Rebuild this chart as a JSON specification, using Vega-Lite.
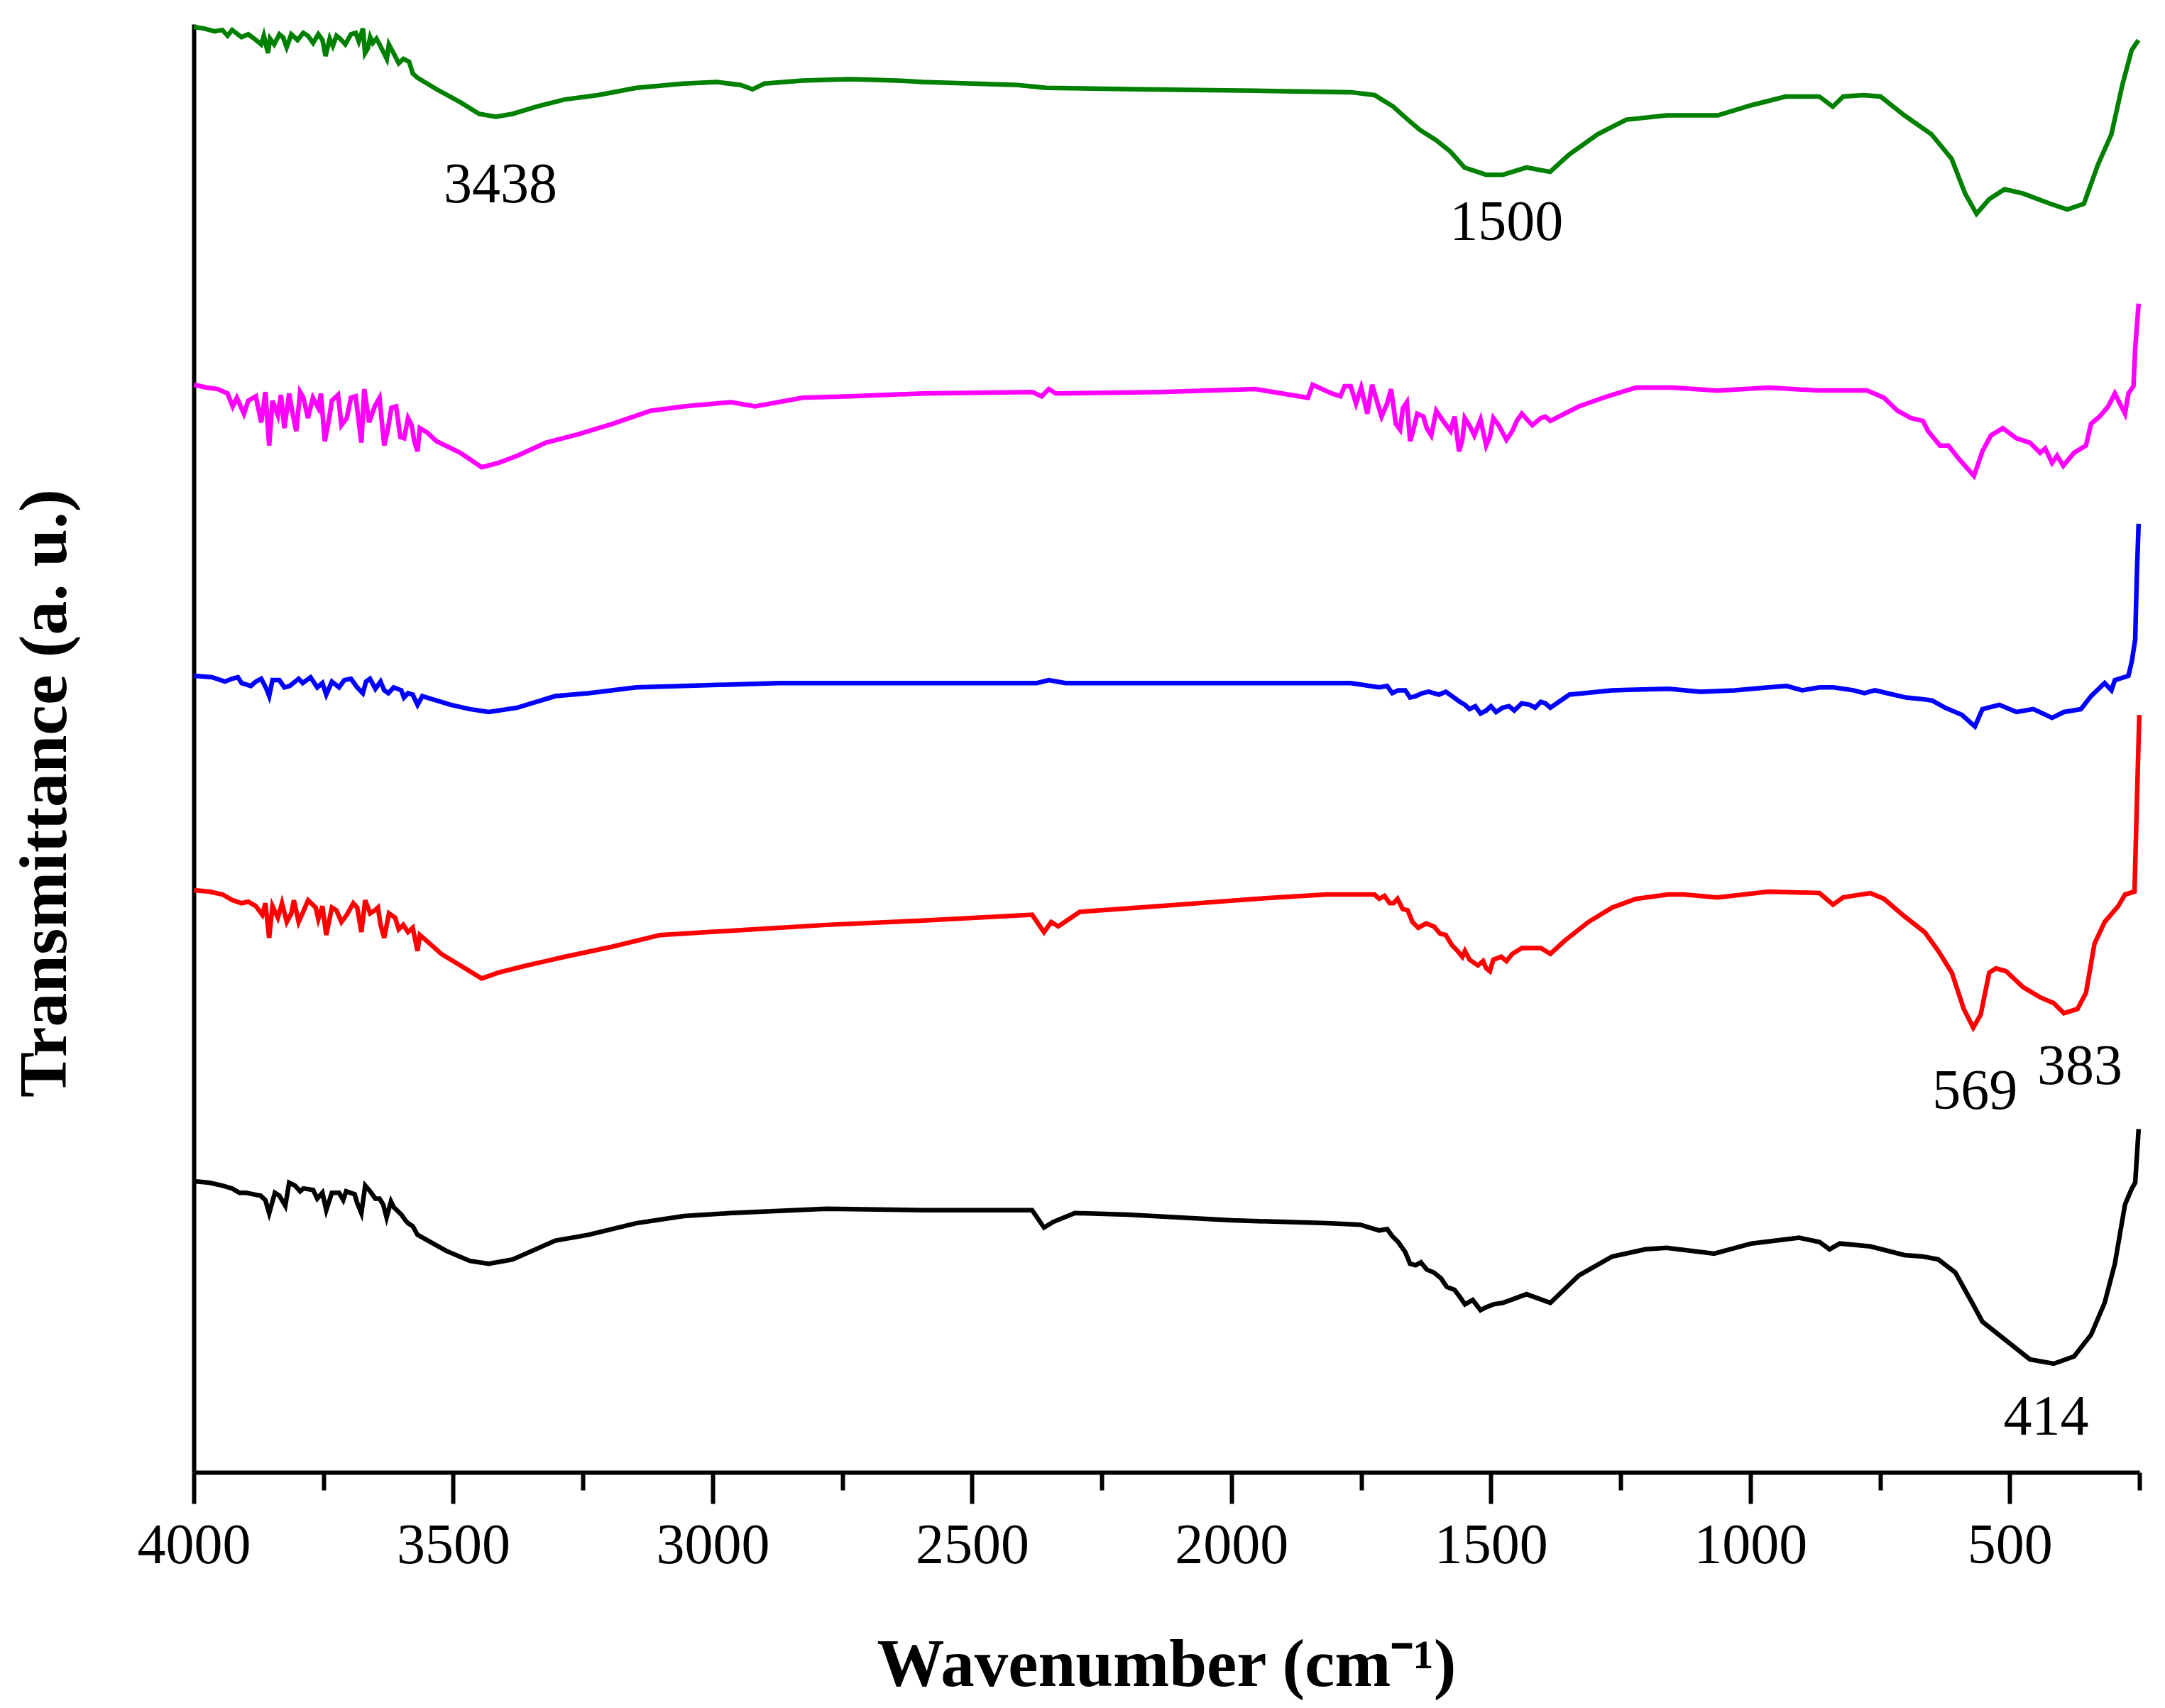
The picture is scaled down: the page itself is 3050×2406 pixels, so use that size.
{
"$schema": "https://vega.github.io/schema/vega-lite/v6.json",
"width": 2741, "height": 2040,
"autosize": {"type": "none"},
"padding": {"left": 273, "top": 34, "right": 36, "bottom": 332},
"background": "white",
"config": {"view": {"stroke": null}},
"datasets": {
"spectra": [
{"series":"green","wavenumber":4000,"T":99.8},{"series":"green","wavenumber":3926,"T":99.6},{"series":"green","wavenumber":3908,"T":99.1},{"series":"green","wavenumber":3880,"T":98.9},{"series":"green","wavenumber":3857,"T":98.0},{"series":"green","wavenumber":3853,"T":99.0},{"series":"green","wavenumber":3835,"T":99.3},{"series":"green","wavenumber":3821,"T":98.4},{"series":"green","wavenumber":3812,"T":99.3},{"series":"green","wavenumber":3789,"T":99.4},{"series":"green","wavenumber":3752,"T":98.9},{"series":"green","wavenumber":3746,"T":97.8},{"series":"green","wavenumber":3738,"T":99.0},{"series":"green","wavenumber":3725,"T":99.2},{"series":"green","wavenumber":3697,"T":99.3},{"series":"green","wavenumber":3674,"T":99.7},{"series":"green","wavenumber":3670,"T":98.0},{"series":"green","wavenumber":3660,"T":99.1},{"series":"green","wavenumber":3642,"T":98.6},{"series":"green","wavenumber":3628,"T":97.6},{"series":"green","wavenumber":3624,"T":98.6},{"series":"green","wavenumber":3596,"T":97.6},{"series":"green","wavenumber":3569,"T":96.3},{"series":"green","wavenumber":3532,"T":95.5},{"series":"green","wavenumber":3486,"T":94.6},{"series":"green","wavenumber":3450,"T":93.8},{"series":"green","wavenumber":3418,"T":93.6},{"series":"green","wavenumber":3386,"T":93.8},{"series":"green","wavenumber":3340,"T":94.3},{"series":"green","wavenumber":3285,"T":94.8},{"series":"green","wavenumber":3221,"T":95.1},{"series":"green","wavenumber":3147,"T":95.6},{"series":"green","wavenumber":3056,"T":95.9},{"series":"green","wavenumber":2992,"T":96.0},{"series":"green","wavenumber":2946,"T":95.8},{"series":"green","wavenumber":2923,"T":95.5},{"series":"green","wavenumber":2900,"T":95.9},{"series":"green","wavenumber":2827,"T":96.1},{"series":"green","wavenumber":2735,"T":96.2},{"series":"green","wavenumber":2643,"T":96.1},{"series":"green","wavenumber":2595,"T":96.0},{"series":"green","wavenumber":2412,"T":95.8},{"series":"green","wavenumber":2357,"T":95.6},{"series":"green","wavenumber":2183,"T":95.5},{"series":"green","wavenumber":1953,"T":95.4},{"series":"green","wavenumber":1770,"T":95.3},{"series":"green","wavenumber":1724,"T":95.1},{"series":"green","wavenumber":1688,"T":94.3},{"series":"green","wavenumber":1660,"T":93.4},{"series":"green","wavenumber":1637,"T":92.7},{"series":"green","wavenumber":1606,"T":92.0},{"series":"green","wavenumber":1578,"T":91.2},{"series":"green","wavenumber":1551,"T":90.1},{"series":"green","wavenumber":1509,"T":89.6},{"series":"green","wavenumber":1477,"T":89.6},{"series":"green","wavenumber":1431,"T":90.1},{"series":"green","wavenumber":1386,"T":89.8},{"series":"green","wavenumber":1349,"T":91.0},{"series":"green","wavenumber":1294,"T":92.4},{"series":"green","wavenumber":1239,"T":93.4},{"series":"green","wavenumber":1161,"T":93.7},{"series":"green","wavenumber":1063,"T":93.7},{"series":"green","wavenumber":998,"T":94.4},{"series":"green","wavenumber":932,"T":95.0},{"series":"green","wavenumber":867,"T":95.0},{"series":"green","wavenumber":841,"T":94.3},{"series":"green","wavenumber":821,"T":95.0},{"series":"green","wavenumber":782,"T":95.1},{"series":"green","wavenumber":749,"T":95.0},{"series":"green","wavenumber":703,"T":93.7},{"series":"green","wavenumber":651,"T":92.4},{"series":"green","wavenumber":612,"T":90.7},{"series":"green","wavenumber":586,"T":88.3},{"series":"green","wavenumber":564,"T":86.9},{"series":"green","wavenumber":540,"T":87.9},{"series":"green","wavenumber":510,"T":88.6},{"series":"green","wavenumber":474,"T":88.3},{"series":"green","wavenumber":422,"T":87.6},{"series":"green","wavenumber":389,"T":87.2},{"series":"green","wavenumber":357,"T":87.6},{"series":"green","wavenumber":330,"T":90.3},{"series":"green","wavenumber":304,"T":92.4},{"series":"green","wavenumber":283,"T":95.8},{"series":"green","wavenumber":265,"T":98.2},{"series":"green","wavenumber":252,"T":98.9},
{"series":"green","wavenumber":3980,"T":99.7},{"series":"green","wavenumber":3960,"T":99.5},{"series":"green","wavenumber":3945,"T":99.6},{"series":"green","wavenumber":3935,"T":99.2},{"series":"green","wavenumber":3895,"T":99.3},{"series":"green","wavenumber":3870,"T":98.6},{"series":"green","wavenumber":3865,"T":99.2},{"series":"green","wavenumber":3845,"T":98.6},{"series":"green","wavenumber":3828,"T":99.1},{"series":"green","wavenumber":3800,"T":98.9},{"series":"green","wavenumber":3780,"T":99.2},{"series":"green","wavenumber":3770,"T":98.7},{"series":"green","wavenumber":3760,"T":99.3},{"series":"green","wavenumber":3732,"T":98.5},{"series":"green","wavenumber":3718,"T":99.0},{"series":"green","wavenumber":3708,"T":98.6},{"series":"green","wavenumber":3688,"T":99.4},{"series":"green","wavenumber":3682,"T":98.8},{"series":"green","wavenumber":3665,"T":98.3},{"series":"green","wavenumber":3655,"T":98.7},{"series":"green","wavenumber":3648,"T":99.0},{"series":"green","wavenumber":3635,"T":98.1},{"series":"green","wavenumber":3615,"T":98.0},{"series":"green","wavenumber":3605,"T":97.3},{"series":"green","wavenumber":3585,"T":97.4},{"series":"green","wavenumber":3578,"T":96.6},
{"series":"magenta","wavenumber":3999.5,"T":75.1},{"series":"magenta","wavenumber":3953.7,"T":74.8},{"series":"magenta","wavenumber":3917,"T":74.2},{"series":"magenta","wavenumber":3903.3,"T":73.1},{"series":"magenta","wavenumber":3880.4,"T":74.3},{"series":"magenta","wavenumber":3854.7,"T":70.9},{"series":"magenta","wavenumber":3848.3,"T":74.0},{"series":"magenta","wavenumber":3825.4,"T":72.1},{"series":"magenta","wavenumber":3816.2,"T":74.5},{"series":"magenta","wavenumber":3802.5,"T":71.9},{"series":"magenta","wavenumber":3788.7,"T":74.2},{"series":"magenta","wavenumber":3770.4,"T":74.2},{"series":"magenta","wavenumber":3747.5,"T":71.2},{"series":"magenta","wavenumber":3733.8,"T":74.0},{"series":"magenta","wavenumber":3715.4,"T":72.3},{"series":"magenta","wavenumber":3697.1,"T":74.2},{"series":"magenta","wavenumber":3677,"T":71.1},{"series":"magenta","wavenumber":3671.4,"T":74.8},{"series":"magenta","wavenumber":3651.3,"T":73.6},{"series":"magenta","wavenumber":3633,"T":70.9},{"series":"magenta","wavenumber":3619.2,"T":73.5},{"series":"magenta","wavenumber":3594.5,"T":71.4},{"series":"magenta","wavenumber":3587.1,"T":72.8},{"series":"magenta","wavenumber":3568.8,"T":70.5},{"series":"magenta","wavenumber":3564.3,"T":72.1},{"series":"magenta","wavenumber":3532.2,"T":71.2},{"series":"magenta","wavenumber":3486.3,"T":70.4},{"series":"magenta","wavenumber":3445.1,"T":69.4},{"series":"magenta","wavenumber":3413.1,"T":69.7},{"series":"magenta","wavenumber":3376.4,"T":70.2},{"series":"magenta","wavenumber":3321.4,"T":71.1},{"series":"magenta","wavenumber":3257.3,"T":71.7},{"series":"magenta","wavenumber":3193.1,"T":72.4},{"series":"magenta","wavenumber":3119.9,"T":73.3},{"series":"magenta","wavenumber":3055.7,"T":73.6},{"series":"magenta","wavenumber":2964.1,"T":73.9},{"series":"magenta","wavenumber":2918.2,"T":73.6},{"series":"magenta","wavenumber":2826.6,"T":74.2},{"series":"magenta","wavenumber":2735,"T":74.3},{"series":"magenta","wavenumber":2594.9,"T":74.5},{"series":"magenta","wavenumber":2384.2,"T":74.6},{"series":"magenta","wavenumber":2365.8,"T":74.3},{"series":"magenta","wavenumber":2352.1,"T":74.8},{"series":"magenta","wavenumber":2338.3,"T":74.5},{"series":"magenta","wavenumber":2136.7,"T":74.6},{"series":"magenta","wavenumber":1953.5,"T":74.8},{"series":"magenta","wavenumber":1852.7,"T":74.2},{"series":"magenta","wavenumber":1843.5,"T":75.1},{"series":"magenta","wavenumber":1806.9,"T":74.5},{"series":"magenta","wavenumber":1770.2,"T":75.0},{"series":"magenta","wavenumber":1738.2,"T":73.1},{"series":"magenta","wavenumber":1729,"T":75.1},{"series":"magenta","wavenumber":1710.7,"T":72.9},{"series":"magenta","wavenumber":1692.4,"T":74.8},{"series":"magenta","wavenumber":1683.2,"T":72.4},{"series":"magenta","wavenumber":1669.5,"T":73.5},{"series":"magenta","wavenumber":1655.7,"T":71.2},{"series":"magenta","wavenumber":1642,"T":73.1},{"series":"magenta","wavenumber":1623.6,"T":72.1},{"series":"magenta","wavenumber":1605.3,"T":73.3},{"series":"magenta","wavenumber":1577.8,"T":71.9},{"series":"magenta","wavenumber":1561.3,"T":70.5},{"series":"magenta","wavenumber":1550.4,"T":72.8},{"series":"magenta","wavenumber":1532,"T":71.6},{"series":"magenta","wavenumber":1509.1,"T":70.9},{"series":"magenta","wavenumber":1495.3,"T":72.8},{"series":"magenta","wavenumber":1458.7,"T":71.9},{"series":"magenta","wavenumber":1440.4,"T":73.1},{"series":"magenta","wavenumber":1403.7,"T":72.8},{"series":"magenta","wavenumber":1385.4,"T":72.6},{"series":"magenta","wavenumber":1330.4,"T":73.6},{"series":"magenta","wavenumber":1275.5,"T":74.3},{"series":"magenta","wavenumber":1220.5,"T":74.9},{"series":"magenta","wavenumber":1148.2,"T":74.9},{"series":"magenta","wavenumber":1063.1,"T":74.7},{"series":"magenta","wavenumber":964.9,"T":74.9},{"series":"magenta","wavenumber":866.8,"T":74.7},{"series":"magenta","wavenumber":775.2,"T":74.7},{"series":"magenta","wavenumber":742.4,"T":74.2},{"series":"magenta","wavenumber":716.3,"T":73.3},{"series":"magenta","wavenumber":690.1,"T":72.8},{"series":"magenta","wavenumber":667.2,"T":72.6},{"series":"magenta","wavenumber":657.4,"T":71.9},{"series":"magenta","wavenumber":634.5,"T":70.9},{"series":"magenta","wavenumber":618.1,"T":70.9},{"series":"magenta","wavenumber":598.5,"T":70.0},{"series":"magenta","wavenumber":569,"T":68.8},{"series":"magenta","wavenumber":552.7,"T":70.5},{"series":"magenta","wavenumber":536.3,"T":71.6},{"series":"magenta","wavenumber":513.4,"T":72.1},{"series":"magenta","wavenumber":487.2,"T":71.4},{"series":"magenta","wavenumber":461.1,"T":71.1},{"series":"magenta","wavenumber":441.4,"T":70.4},{"series":"magenta","wavenumber":431.6,"T":70.7},{"series":"magenta","wavenumber":418.5,"T":69.7},{"series":"magenta","wavenumber":408.7,"T":70.2},{"series":"magenta","wavenumber":396.9,"T":69.5},{"series":"magenta","wavenumber":376,"T":70.4},{"series":"magenta","wavenumber":353.1,"T":70.9},{"series":"magenta","wavenumber":343.3,"T":72.4},{"series":"magenta","wavenumber":326.9,"T":72.9},{"series":"magenta","wavenumber":310.3,"T":73.6},{"series":"magenta","wavenumber":297.4,"T":74.5},{"series":"magenta","wavenumber":277.8,"T":73.1},{"series":"magenta","wavenumber":271.2,"T":74.5},{"series":"magenta","wavenumber":261.5,"T":75.0},{"series":"magenta","wavenumber":258.2,"T":77.6},{"series":"magenta","wavenumber":251.6,"T":80.7},
{"series":"magenta","wavenumber":3975,"T":74.9},{"series":"magenta","wavenumber":3935,"T":74.5},{"series":"magenta","wavenumber":3925,"T":73.6},{"series":"magenta","wavenumber":3895,"T":74.0},{"series":"magenta","wavenumber":3870,"T":72.5},{"series":"magenta","wavenumber":3862,"T":74.6},{"series":"magenta","wavenumber":3838,"T":73.0},{"series":"magenta","wavenumber":3832,"T":74.4},{"series":"magenta","wavenumber":3810,"T":73.2},{"series":"magenta","wavenumber":3795,"T":74.6},{"series":"magenta","wavenumber":3780,"T":72.8},{"series":"magenta","wavenumber":3760,"T":73.5},{"series":"magenta","wavenumber":3755,"T":74.5},{"series":"magenta","wavenumber":3740,"T":72.6},{"series":"magenta","wavenumber":3722,"T":74.4},{"series":"magenta","wavenumber":3705,"T":72.8},{"series":"magenta","wavenumber":3688,"T":74.3},{"series":"magenta","wavenumber":3662,"T":72.5},{"series":"magenta","wavenumber":3642,"T":74.2},{"series":"magenta","wavenumber":3626,"T":72.0},{"series":"magenta","wavenumber":3610,"T":73.6},{"series":"magenta","wavenumber":3602,"T":71.5},{"series":"magenta","wavenumber":3580,"T":72.3},{"series":"magenta","wavenumber":3575,"T":71.2},{"series":"magenta","wavenumber":3550,"T":71.8},
{"series":"magenta","wavenumber":1790,"T":74.3},{"series":"magenta","wavenumber":1782,"T":75.0},{"series":"magenta","wavenumber":1760,"T":73.8},{"series":"magenta","wavenumber":1750,"T":74.9},{"series":"magenta","wavenumber":1720,"T":74.0},{"series":"magenta","wavenumber":1700,"T":73.8},{"series":"magenta","wavenumber":1675,"T":72.0},{"series":"magenta","wavenumber":1662,"T":73.9},{"series":"magenta","wavenumber":1648,"T":72.2},{"series":"magenta","wavenumber":1630,"T":72.9},{"series":"magenta","wavenumber":1615,"T":71.6},{"series":"magenta","wavenumber":1590,"T":72.5},{"series":"magenta","wavenumber":1570,"T":72.9},{"series":"magenta","wavenumber":1555,"T":71.3},{"series":"magenta","wavenumber":1540,"T":72.2},{"series":"magenta","wavenumber":1520,"T":72.7},{"series":"magenta","wavenumber":1502,"T":71.5},{"series":"magenta","wavenumber":1485,"T":72.3},{"series":"magenta","wavenumber":1470,"T":71.3},{"series":"magenta","wavenumber":1450,"T":72.6},{"series":"magenta","wavenumber":1420,"T":72.3},{"series":"magenta","wavenumber":1395,"T":72.9},
{"series":"blue","wavenumber":3999.5,"T":55.0},{"series":"blue","wavenumber":3926.2,"T":54.8},{"series":"blue","wavenumber":3907.8,"T":54.5},{"series":"blue","wavenumber":3880.4,"T":54.6},{"series":"blue","wavenumber":3854.7,"T":53.6},{"series":"blue","wavenumber":3848.3,"T":54.7},{"series":"blue","wavenumber":3825.4,"T":54.2},{"series":"blue","wavenumber":3797.9,"T":54.8},{"series":"blue","wavenumber":3752.1,"T":54.5},{"series":"blue","wavenumber":3744.7,"T":53.7},{"series":"blue","wavenumber":3733.8,"T":54.6},{"series":"blue","wavenumber":3697.1,"T":54.8},{"series":"blue","wavenumber":3674.2,"T":53.8},{"series":"blue","wavenumber":3660.4,"T":54.8},{"series":"blue","wavenumber":3633,"T":54.0},{"series":"blue","wavenumber":3614.6,"T":54.2},{"series":"blue","wavenumber":3587.1,"T":53.8},{"series":"blue","wavenumber":3568.8,"T":53.0},{"series":"blue","wavenumber":3559.6,"T":53.6},{"series":"blue","wavenumber":3504.7,"T":53.0},{"series":"blue","wavenumber":3468,"T":52.7},{"series":"blue","wavenumber":3431.4,"T":52.5},{"series":"blue","wavenumber":3376.4,"T":52.8},{"series":"blue","wavenumber":3303.1,"T":53.6},{"series":"blue","wavenumber":3239,"T":53.8},{"series":"blue","wavenumber":3147.4,"T":54.2},{"series":"blue","wavenumber":3055.7,"T":54.3},{"series":"blue","wavenumber":2872.4,"T":54.5},{"series":"blue","wavenumber":2594.9,"T":54.5},{"series":"blue","wavenumber":2375,"T":54.5},{"series":"blue","wavenumber":2352.1,"T":54.7},{"series":"blue","wavenumber":2320,"T":54.5},{"series":"blue","wavenumber":1861.9,"T":54.5},{"series":"blue","wavenumber":1770.2,"T":54.5},{"series":"blue","wavenumber":1715.3,"T":54.2},{"series":"blue","wavenumber":1678.6,"T":54.0},{"series":"blue","wavenumber":1655.7,"T":53.5},{"series":"blue","wavenumber":1632.8,"T":53.8},{"series":"blue","wavenumber":1587,"T":53.9},{"series":"blue","wavenumber":1559.5,"T":53.2},{"series":"blue","wavenumber":1541.2,"T":52.7},{"series":"blue","wavenumber":1509.1,"T":52.6},{"series":"blue","wavenumber":1477.1,"T":52.8},{"series":"blue","wavenumber":1440.4,"T":53.1},{"series":"blue","wavenumber":1403.7,"T":53.2},{"series":"blue","wavenumber":1385.4,"T":52.8},{"series":"blue","wavenumber":1348.8,"T":53.7},{"series":"blue","wavenumber":1266.3,"T":54.0},{"series":"blue","wavenumber":1158.2,"T":54.1},{"series":"blue","wavenumber":1095.8,"T":53.9},{"series":"blue","wavenumber":964.9,"T":54.2},{"series":"blue","wavenumber":866.8,"T":54.2},{"series":"blue","wavenumber":801.3,"T":54.0},{"series":"blue","wavenumber":735.9,"T":53.8},{"series":"blue","wavenumber":670.5,"T":53.4},{"series":"blue","wavenumber":624.6,"T":52.8},{"series":"blue","wavenumber":592,"T":52.3},{"series":"blue","wavenumber":567.1,"T":51.5},{"series":"blue","wavenumber":552.7,"T":52.7},{"series":"blue","wavenumber":520,"T":53.0},{"series":"blue","wavenumber":487.2,"T":52.5},{"series":"blue","wavenumber":454.5,"T":52.7},{"series":"blue","wavenumber":418.5,"T":52.1},{"series":"blue","wavenumber":395.6,"T":52.5},{"series":"blue","wavenumber":362.9,"T":52.7},{"series":"blue","wavenumber":343.3,"T":53.6},{"series":"blue","wavenumber":317.1,"T":54.5},{"series":"blue","wavenumber":304,"T":54.0},{"series":"blue","wavenumber":297.4,"T":54.7},{"series":"blue","wavenumber":271.3,"T":55.0},{"series":"blue","wavenumber":264.7,"T":56.0},{"series":"blue","wavenumber":258.2,"T":57.5},{"series":"blue","wavenumber":255,"T":62.0},{"series":"blue","wavenumber":251.6,"T":65.5},
{"series":"blue","wavenumber":3965,"T":54.9},{"series":"blue","wavenumber":3940,"T":54.6},{"series":"blue","wavenumber":3915,"T":54.9},{"series":"blue","wavenumber":3890,"T":54.3},{"series":"blue","wavenumber":3870,"T":54.8},{"series":"blue","wavenumber":3860,"T":54.1},{"series":"blue","wavenumber":3835,"T":54.7},{"series":"blue","wavenumber":3815,"T":54.3},{"series":"blue","wavenumber":3790,"T":54.5},{"series":"blue","wavenumber":3775,"T":54.9},{"series":"blue","wavenumber":3762,"T":54.2},{"series":"blue","wavenumber":3720,"T":54.2},{"series":"blue","wavenumber":3710,"T":54.7},{"series":"blue","wavenumber":3685,"T":54.2},{"series":"blue","wavenumber":3668,"T":54.6},{"series":"blue","wavenumber":3650,"T":54.1},{"series":"blue","wavenumber":3640,"T":54.6},{"series":"blue","wavenumber":3625,"T":53.8},{"series":"blue","wavenumber":3600,"T":54.0},{"series":"blue","wavenumber":3595,"T":53.5},{"series":"blue","wavenumber":3578,"T":53.7},
{"series":"blue","wavenumber":1700,"T":54.3},{"series":"blue","wavenumber":1690,"T":53.8},{"series":"blue","wavenumber":1665,"T":54.0},{"series":"blue","wavenumber":1645,"T":53.6},{"series":"blue","wavenumber":1620,"T":53.9},{"series":"blue","wavenumber":1600,"T":53.7},{"series":"blue","wavenumber":1575,"T":53.6},{"series":"blue","wavenumber":1550,"T":53.0},{"series":"blue","wavenumber":1530,"T":52.9},{"series":"blue","wavenumber":1520,"T":52.4},{"series":"blue","wavenumber":1500,"T":52.9},{"series":"blue","wavenumber":1490,"T":52.5},{"series":"blue","wavenumber":1465,"T":52.9},{"series":"blue","wavenumber":1455,"T":52.6},{"series":"blue","wavenumber":1425,"T":53.0},{"series":"blue","wavenumber":1415,"T":52.8},{"series":"blue","wavenumber":1395,"T":53.1},
{"series":"blue","wavenumber":1030,"T":54.0},{"series":"blue","wavenumber":930,"T":54.3},{"series":"blue","wavenumber":900,"T":54.0},{"series":"blue","wavenumber":840,"T":54.2},{"series":"blue","wavenumber":780,"T":53.8},{"series":"blue","wavenumber":760,"T":54.0},{"series":"blue","wavenumber":700,"T":53.5},{"series":"blue","wavenumber":650,"T":53.3},
{"series":"red","wavenumber":3999.5,"T":40.2},{"series":"red","wavenumber":3944.5,"T":39.9},{"series":"red","wavenumber":3907.8,"T":39.3},{"series":"red","wavenumber":3880.4,"T":39.1},{"series":"red","wavenumber":3854.7,"T":36.9},{"series":"red","wavenumber":3848.3,"T":39.1},{"series":"red","wavenumber":3820.8,"T":38.0},{"series":"red","wavenumber":3807.1,"T":39.5},{"series":"red","wavenumber":3797.9,"T":38.0},{"series":"red","wavenumber":3779.6,"T":39.5},{"series":"red","wavenumber":3752.1,"T":39.1},{"series":"red","wavenumber":3744.7,"T":37.1},{"series":"red","wavenumber":3733.8,"T":39.0},{"series":"red","wavenumber":3715.4,"T":38.0},{"series":"red","wavenumber":3692.5,"T":39.3},{"series":"red","wavenumber":3677,"T":37.3},{"series":"red","wavenumber":3669.6,"T":39.5},{"series":"red","wavenumber":3651.3,"T":38.8},{"series":"red","wavenumber":3633,"T":36.9},{"series":"red","wavenumber":3623.8,"T":38.6},{"series":"red","wavenumber":3596.3,"T":37.8},{"series":"red","wavenumber":3587.1,"T":37.3},{"series":"red","wavenumber":3568.8,"T":36.0},{"series":"red","wavenumber":3564.3,"T":37.1},{"series":"red","wavenumber":3523,"T":35.8},{"series":"red","wavenumber":3486.3,"T":35.0},{"series":"red","wavenumber":3445.1,"T":34.1},{"series":"red","wavenumber":3413.1,"T":34.5},{"series":"red","wavenumber":3358.1,"T":35.0},{"series":"red","wavenumber":3284.8,"T":35.6},{"series":"red","wavenumber":3193.1,"T":36.3},{"series":"red","wavenumber":3101.5,"T":37.1},{"series":"red","wavenumber":3009.9,"T":37.3},{"series":"red","wavenumber":2918.2,"T":37.5},{"series":"red","wavenumber":2780.8,"T":37.8},{"series":"red","wavenumber":2594.9,"T":38.1},{"series":"red","wavenumber":2384.2,"T":38.5},{"series":"red","wavenumber":2361.3,"T":37.3},{"series":"red","wavenumber":2347.5,"T":38.0},{"series":"red","wavenumber":2333.8,"T":37.7},{"series":"red","wavenumber":2292.5,"T":38.7},{"series":"red","wavenumber":2136.7,"T":39.1},{"series":"red","wavenumber":1953.5,"T":39.6},{"series":"red","wavenumber":1816.1,"T":39.9},{"series":"red","wavenumber":1724.4,"T":39.9},{"series":"red","wavenumber":1715.3,"T":39.6},{"series":"red","wavenumber":1687.8,"T":39.3},{"series":"red","wavenumber":1660.3,"T":38.8},{"series":"red","wavenumber":1651.1,"T":38.0},{"series":"red","wavenumber":1609.9,"T":37.7},{"series":"red","wavenumber":1587,"T":37.1},{"series":"red","wavenumber":1564.1,"T":36.0},{"series":"red","wavenumber":1541.2,"T":35.4},{"series":"red","wavenumber":1509.1,"T":34.8},{"series":"red","wavenumber":1495.3,"T":35.4},{"series":"red","wavenumber":1458.7,"T":35.8},{"series":"red","wavenumber":1440.4,"T":36.2},{"series":"red","wavenumber":1403.7,"T":36.2},{"series":"red","wavenumber":1385.4,"T":35.8},{"series":"red","wavenumber":1357.9,"T":36.7},{"series":"red","wavenumber":1312.1,"T":38.0},{"series":"red","wavenumber":1266.3,"T":39.0},{"series":"red","wavenumber":1220.5,"T":39.6},{"series":"red","wavenumber":1158.2,"T":39.9},{"series":"red","wavenumber":1128.5,"T":39.9},{"series":"red","wavenumber":1063.1,"T":39.7},{"series":"red","wavenumber":964.9,"T":40.1},{"series":"red","wavenumber":866.8,"T":40.0},{"series":"red","wavenumber":840.6,"T":39.2},{"series":"red","wavenumber":821,"T":39.7},{"series":"red","wavenumber":768.6,"T":40.0},{"series":"red","wavenumber":742.4,"T":39.6},{"series":"red","wavenumber":703.2,"T":38.4},{"series":"red","wavenumber":663.9,"T":37.3},{"series":"red","wavenumber":637.7,"T":36.0},{"series":"red","wavenumber":611.6,"T":34.5},{"series":"red","wavenumber":588.6,"T":32.0},{"series":"red","wavenumber":570.3,"T":30.7},{"series":"red","wavenumber":556,"T":31.6},{"series":"red","wavenumber":539.6,"T":34.5},{"series":"red","wavenumber":526.5,"T":34.8},{"series":"red","wavenumber":506.9,"T":34.6},{"series":"red","wavenumber":474.2,"T":33.5},{"series":"red","wavenumber":441.4,"T":32.8},{"series":"red","wavenumber":415.3,"T":32.4},{"series":"red","wavenumber":395.6,"T":31.7},{"series":"red","wavenumber":369.4,"T":32.0},{"series":"red","wavenumber":353.1,"T":33.1},{"series":"red","wavenumber":336.7,"T":36.5},{"series":"red","wavenumber":317.1,"T":38.0},{"series":"red","wavenumber":290.9,"T":39.1},{"series":"red","wavenumber":277.8,"T":39.9},{"series":"red","wavenumber":259.5,"T":40.1},{"series":"red","wavenumber":254.9,"T":46.3},{"series":"red","wavenumber":250.3,"T":52.3},
{"series":"red","wavenumber":3970,"T":40.1},{"series":"red","wavenumber":3925,"T":39.5},{"series":"red","wavenumber":3895,"T":39.4},{"series":"red","wavenumber":3868,"T":38.5},{"series":"red","wavenumber":3862,"T":39.3},{"series":"red","wavenumber":3838,"T":38.3},{"series":"red","wavenumber":3830,"T":39.3},{"series":"red","wavenumber":3812,"T":38.6},{"series":"red","wavenumber":3788,"T":38.8},{"series":"red","wavenumber":3765,"T":39.0},{"series":"red","wavenumber":3760,"T":38.2},{"series":"red","wavenumber":3725,"T":38.8},{"series":"red","wavenumber":3705,"T":38.5},{"series":"red","wavenumber":3685,"T":39.0},{"series":"red","wavenumber":3660,"T":38.6},{"series":"red","wavenumber":3645,"T":39.0},{"series":"red","wavenumber":3640,"T":37.8},{"series":"red","wavenumber":3612,"T":38.3},{"series":"red","wavenumber":3605,"T":37.5},{"series":"red","wavenumber":3578,"T":37.6},{"series":"red","wavenumber":3545,"T":36.5},
{"series":"red","wavenumber":1705,"T":39.8},{"series":"red","wavenumber":1695,"T":39.3},{"series":"red","wavenumber":1680,"T":39.6},{"series":"red","wavenumber":1670,"T":38.9},{"series":"red","wavenumber":1640,"T":37.6},{"series":"red","wavenumber":1625,"T":37.9},{"series":"red","wavenumber":1598,"T":37.2},{"series":"red","wavenumber":1575,"T":36.4},{"series":"red","wavenumber":1555,"T":35.6},{"series":"red","wavenumber":1550,"T":36.0},{"series":"red","wavenumber":1525,"T":35.0},{"series":"red","wavenumber":1515,"T":35.3},{"series":"red","wavenumber":1502,"T":34.6},{"series":"red","wavenumber":1480,"T":35.6},{"series":"red","wavenumber":1470,"T":35.3},
{"series":"black","wavenumber":3999.5,"T":20.1},{"series":"black","wavenumber":3926.2,"T":19.6},{"series":"black","wavenumber":3898.7,"T":19.3},{"series":"black","wavenumber":3871.2,"T":19.1},{"series":"black","wavenumber":3854.7,"T":17.9},{"series":"black","wavenumber":3843.7,"T":19.3},{"series":"black","wavenumber":3823.6,"T":18.4},{"series":"black","wavenumber":3816.2,"T":20.0},{"series":"black","wavenumber":3788.7,"T":19.6},{"series":"black","wavenumber":3752.1,"T":19.3},{"series":"black","wavenumber":3744.7,"T":18.1},{"series":"black","wavenumber":3733.8,"T":19.3},{"series":"black","wavenumber":3706.3,"T":19.4},{"series":"black","wavenumber":3677,"T":17.9},{"series":"black","wavenumber":3669.6,"T":19.8},{"series":"black","wavenumber":3642.1,"T":18.9},{"series":"black","wavenumber":3628.4,"T":17.6},{"series":"black","wavenumber":3614.6,"T":18.3},{"series":"black","wavenumber":3587.1,"T":17.2},{"series":"black","wavenumber":3568.8,"T":16.4},{"series":"black","wavenumber":3513.9,"T":15.3},{"series":"black","wavenumber":3468,"T":14.6},{"series":"black","wavenumber":3431.4,"T":14.4},{"series":"black","wavenumber":3385.6,"T":14.7},{"series":"black","wavenumber":3303.1,"T":16.0},{"series":"black","wavenumber":3239,"T":16.4},{"series":"black","wavenumber":3147.4,"T":17.2},{"series":"black","wavenumber":3055.7,"T":17.7},{"series":"black","wavenumber":2964.1,"T":17.9},{"series":"black","wavenumber":2780.8,"T":18.2},{"series":"black","wavenumber":2594.9,"T":18.1},{"series":"black","wavenumber":2384.2,"T":18.1},{"series":"black","wavenumber":2361.3,"T":16.9},{"series":"black","wavenumber":2343,"T":17.3},{"series":"black","wavenumber":2301.7,"T":17.9},{"series":"black","wavenumber":2200.9,"T":17.8},{"series":"black","wavenumber":1999.3,"T":17.4},{"series":"black","wavenumber":1816.1,"T":17.2},{"series":"black","wavenumber":1751.9,"T":17.1},{"series":"black","wavenumber":1715.3,"T":16.7},{"series":"black","wavenumber":1678.6,"T":15.9},{"series":"black","wavenumber":1655.7,"T":14.4},{"series":"black","wavenumber":1623.6,"T":14.0},{"series":"black","wavenumber":1596.1,"T":13.4},{"series":"black","wavenumber":1559.5,"T":12.1},{"series":"black","wavenumber":1509.1,"T":11.4},{"series":"black","wavenumber":1477.1,"T":11.7},{"series":"black","wavenumber":1431.2,"T":12.3},{"series":"black","wavenumber":1385.4,"T":11.7},{"series":"black","wavenumber":1330.4,"T":13.6},{"series":"black","wavenumber":1266.3,"T":14.9},{"series":"black","wavenumber":1202.1,"T":15.4},{"series":"black","wavenumber":1161.3,"T":15.5},{"series":"black","wavenumber":1069.6,"T":15.1},{"series":"black","wavenumber":997.7,"T":15.8},{"series":"black","wavenumber":906.1,"T":16.2},{"series":"black","wavenumber":866.8,"T":15.9},{"series":"black","wavenumber":847.2,"T":15.4},{"series":"black","wavenumber":827.5,"T":15.8},{"series":"black","wavenumber":768.6,"T":15.6},{"series":"black","wavenumber":703.2,"T":15.0},{"series":"black","wavenumber":667.2,"T":14.9},{"series":"black","wavenumber":637.7,"T":14.7},{"series":"black","wavenumber":605,"T":13.8},{"series":"black","wavenumber":572.3,"T":11.7},{"series":"black","wavenumber":552.7,"T":10.4},{"series":"black","wavenumber":506.9,"T":9.1},{"series":"black","wavenumber":461.1,"T":7.8},{"series":"black","wavenumber":415.3,"T":7.5},{"series":"black","wavenumber":376,"T":8.0},{"series":"black","wavenumber":343.3,"T":9.5},{"series":"black","wavenumber":317.1,"T":11.7},{"series":"black","wavenumber":297.4,"T":14.4},{"series":"black","wavenumber":277.8,"T":18.5},{"series":"black","wavenumber":264.7,"T":19.6},{"series":"black","wavenumber":258.2,"T":20.0},{"series":"black","wavenumber":251.6,"T":23.7},
{"series":"black","wavenumber":3970,"T":20.0},{"series":"black","wavenumber":3945,"T":19.8},{"series":"black","wavenumber":3912,"T":19.3},{"series":"black","wavenumber":3885,"T":19.2},{"series":"black","wavenumber":3862,"T":18.8},{"series":"black","wavenumber":3835,"T":19.1},{"series":"black","wavenumber":3805,"T":19.8},{"series":"black","wavenumber":3795,"T":19.4},{"series":"black","wavenumber":3770,"T":19.5},{"series":"black","wavenumber":3762,"T":18.9},{"series":"black","wavenumber":3720,"T":19.3},{"series":"black","wavenumber":3712,"T":18.8},{"series":"black","wavenumber":3690,"T":19.2},{"series":"black","wavenumber":3685,"T":18.6},{"series":"black","wavenumber":3660,"T":19.4},{"series":"black","wavenumber":3650,"T":18.9},{"series":"black","wavenumber":3635,"T":18.5},{"series":"black","wavenumber":3620,"T":18.7},{"series":"black","wavenumber":3600,"T":17.8},{"series":"black","wavenumber":3592,"T":17.4},{"series":"black","wavenumber":3578,"T":17.0},
{"series":"black","wavenumber":1700,"T":16.8},{"series":"black","wavenumber":1690,"T":16.3},{"series":"black","wavenumber":1665,"T":15.2},{"series":"black","wavenumber":1645,"T":14.3},{"series":"black","wavenumber":1635,"T":14.5},{"series":"black","wavenumber":1610,"T":13.8},{"series":"black","wavenumber":1585,"T":12.8},{"series":"black","wavenumber":1570,"T":12.6},{"series":"black","wavenumber":1550,"T":11.6},{"series":"black","wavenumber":1535,"T":11.9},{"series":"black","wavenumber":1520,"T":11.2},{"series":"black","wavenumber":1495,"T":11.6}
],
"notes": [
{"label": "3438", "wavenumber": 3409, "T": 87.7},
{"label": "1500", "wavenumber": 1470, "T": 85.1},
{"label": "569", "wavenumber": 567, "T": 25.1},
{"label": "383", "wavenumber": 365, "T": 26.8},
{"label": "414", "wavenumber": 430, "T": 2.6}
]
},
"layer": [
{
"data": {"name": "spectra"},
"mark": {"type": "line", "strokeWidth": 6.5, "clip": false},
"encoding": {
"x": {"field": "wavenumber", "type": "quantitative",
 "scale": {"domain": [4000, 250], "nice": false, "zero": false},
 "axis": {"orient": "bottom", "values": [4000, 3500, 3000, 2500, 2000, 1500, 1000, 500], "format": "d",
  "grid": false, "domain": true, "domainColor": "black", "domainWidth": 6,
  "ticks": true, "tickColor": "black", "tickWidth": 6, "tickSize": 44,
  "labelFont": "Liberation Serif", "labelFontSize": 80, "labelColor": "black", "labelBaseline": "alphabetic", "labelPadding": 83, "labelFlush": false, "labelOverlap": false,
  "title": "Wavenumber (cm⁻¹)", "titleFont": "Liberation Serif", "titleFontWeight": "bold", "titleFontSize": 95, "titleColor": "black",
  "titleBaseline": "alphabetic", "titleAlign": "center", "titleX": 1370, "titleY": 300}},
"y": {"field": "T", "type": "quantitative",
 "scale": {"domain": [0, 100], "nice": false, "zero": false},
 "axis": {"orient": "left", "grid": false, "ticks": false, "labels": false, "domain": true, "domainColor": "black", "domainWidth": 6,
  "title": "Transmittance (a. u.)", "titleFont": "Liberation Serif", "titleFontWeight": "bold", "titleFontSize": 96, "titleColor": "black",
  "titleAngle": 270, "titleAlign": "center", "titleBaseline": "middle", "titleX": -210, "titleY": 1083}},
"color": {"field": "series", "type": "nominal",
 "scale": {"domain": ["green", "magenta", "blue", "red", "black"], "range": ["#008000", "#FF00FF", "#0000FF", "#FF0000", "#000000"]},
 "legend": null}
}
},
{
"data": {"name": "notes"},
"mark": {"type": "text", "font": "Liberation Serif", "fontSize": 80, "align": "center", "baseline": "alphabetic", "color": "black"},
"encoding": {
"x": {"field": "wavenumber", "type": "quantitative",
 "axis": {"orient": "bottom", "values": [3750, 3250, 2750, 2250, 1750, 1250, 750, 250],
  "grid": false, "domain": false, "labels": false, "ticks": true, "tickColor": "black", "tickWidth": 6, "tickSize": 25, "title": null}},
"y": {"field": "T", "type": "quantitative",
 "axis": {"orient": "left", "grid": false, "ticks": false, "labels": false, "domain": true, "domainColor": "black", "domainWidth": 6,
  "title": "Transmittance (a. u.)", "titleFont": "Liberation Serif", "titleFontWeight": "bold", "titleFontSize": 96, "titleColor": "black",
  "titleAngle": 270, "titleAlign": "center", "titleBaseline": "middle", "titleX": -210, "titleY": 1083}},
"text": {"field": "label", "type": "nominal"}
}
}
],
"resolve": {"axis": {"x": "independent"}}
}
